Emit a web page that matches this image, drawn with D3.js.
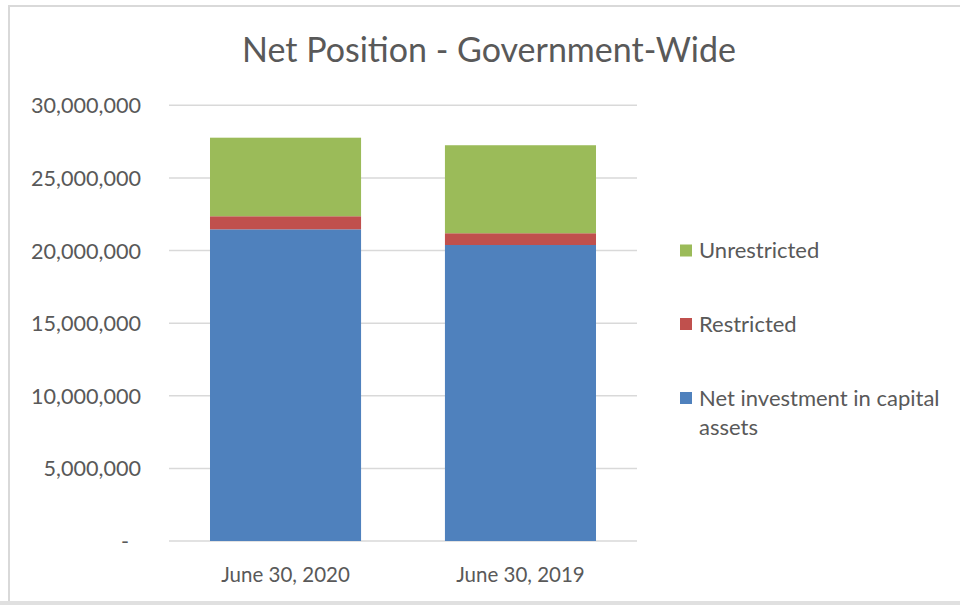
<!DOCTYPE html>
<html>
<head>
<meta charset="utf-8">
<script src="https://cdn.jsdelivr.net/npm/d3@7"></script>
<style>
  html, body { margin: 0; padding: 0; background: #fff; }
  svg { display: block; font-family: Lato, "Open Sans", sans-serif; }
  svg text { font-family: Lato, "Open Sans", sans-serif; }
</style>
</head>
<body>
<svg id="chart" width="960" height="605"></svg>
<script>
// Net position by component, in dollars
const categories = ["June 30, 2020", "June 30, 2019"];
const seriesNames = ["Net investment in capital assets", "Restricted", "Unrestricted"];
const capitalAssets = [21460000, 20380000];
const restricted = [900000, 810000];
const unrestricted = [5410000, 6060000];
const yTicks = [0, 5000000, 10000000, 15000000, 20000000, 25000000, 30000000];
const legendOrder = ["Unrestricted", "Restricted", "Net investment in capital assets"];
const colors = ["#4F81BD", "#C0504D", "#9BBB59"];

const svg = d3.select("#chart");
const W = 960, H = 605;
const textColor = "#595959";
const gridColor = "#d9d9d9";
const fontFamily = 'Lato, "Open Sans", sans-serif';

// Chart frame
svg.append("rect")
  .attr("x", 9).attr("y", 6).attr("width", W).attr("height", H - 9)
  .attr("fill", "#fff").attr("stroke", gridColor).attr("stroke-width", 2);
svg.append("rect")
  .attr("x", 0).attr("y", 601).attr("width", W).attr("height", 4)
  .attr("fill", "#e0e0e0");

const table = categories.map((c, i) => ({
  category: c,
  [seriesNames[0]]: capitalAssets[i],
  [seriesNames[1]]: restricted[i],
  [seriesNames[2]]: unrestricted[i]
}));
const stacked = d3.stack().keys(seriesNames)(table);

const x = d3.scaleBand()
  .domain(categories)
  .range([169, 637])
  .paddingInner(0.357)
  .paddingOuter(0.1745);

const y = d3.scaleLinear()
  .domain([0, 30000000])
  .range([541, 105.3]);

// Horizontal gridlines
svg.append("g")
  .selectAll("line")
  .data(yTicks)
  .join("line")
  .attr("x1", 169).attr("x2", 637)
  .attr("y1", d => y(d)).attr("y2", d => y(d))
  .attr("stroke", gridColor).attr("stroke-width", 1.5);

// Y axis labels (accounting style, zero shown as a dash)
const fmt = d3.format(",");
const yAxis = d3.axisLeft(y)
  .tickValues(yTicks)
  .tickSize(0)
  .tickPadding(0)
  .tickFormat(d => d === 0 ? "-" : fmt(d));
const yG = svg.append("g")
  .attr("transform", "translate(141,0)")
  .call(yAxis)
  .attr("font-family", fontFamily);
yG.select(".domain").remove();
yG.selectAll("text")
  .attr("fill", textColor)
  .style("font-size", "21.6px")
  .attr("dy", "0.35em")
  .attr("dx", d => d === 0 ? -12 : 0);

// Stacked bars
svg.append("g")
  .selectAll("g")
  .data(stacked)
  .join("g")
  .attr("fill", (d, i) => colors[i])
  .selectAll("rect")
  .data(d => d)
  .join("rect")
  .attr("x", d => x(d.data.category))
  .attr("width", x.bandwidth())
  .attr("y", d => y(d[1]))
  .attr("height", d => y(d[0]) - y(d[1]));

// X axis labels
const xAxis = d3.axisBottom(x).tickSize(0).tickPadding(0);
const xG = svg.append("g")
  .attr("transform", "translate(0,575)")
  .call(xAxis)
  .attr("font-family", fontFamily);
xG.select(".domain").remove();
xG.selectAll("text")
  .attr("fill", textColor)
  .style("font-size", "20.5px")
  .attr("y", 0)
  .attr("dy", "0.35em");

// Title
svg.append("text")
  .attr("x", 489).attr("y", 50)
  .attr("text-anchor", "middle")
  .attr("dy", "0.35em")
  .attr("fill", textColor)
  .style("font-size", "34px")
  .text("Net Position - Government-Wide");

// Legend
const legendY = { "Unrestricted": 250.5, "Restricted": 324, "Net investment in capital assets": 398 };
const legend = svg.append("g")
  .selectAll("g")
  .data(legendOrder)
  .join("g")
  .attr("transform", d => `translate(680,${legendY[d]})`);
legend.append("rect")
  .attr("x", 0).attr("y", -6).attr("width", 12).attr("height", 12)
  .attr("fill", d => colors[seriesNames.indexOf(d)]);
legend.append("text")
  .attr("x", 19)
  .attr("dy", "0.35em")
  .attr("fill", textColor)
  .style("font-size", "22px")
  .each(function (d) {
    const t = d3.select(this);
    if (d === "Net investment in capital assets") {
      t.append("tspan").attr("x", 19).text("Net investment in capital");
      t.append("tspan").attr("x", 19).attr("dy", "1.32em").text("assets");
    } else {
      t.text(d);
    }
  });
</script>
</body>
</html>
